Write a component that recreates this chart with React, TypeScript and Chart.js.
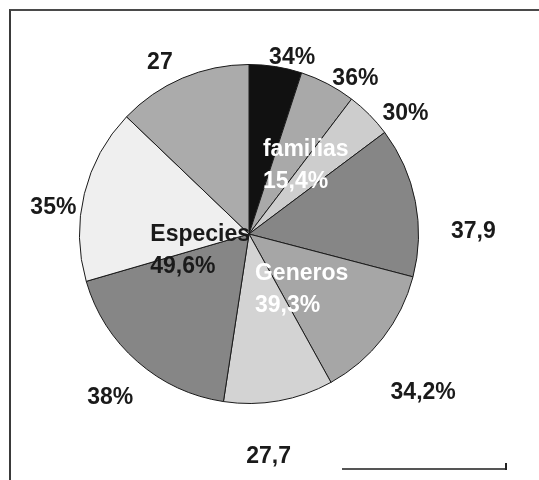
import React, { useEffect, useRef } from "react";
import { Chart, registerables } from "chart.js";

Chart.register(...registerables);

// Group totals (inner labels) and the share of each sub-slice inside its group
const groupNames = ["familias", "Generos", "Especies"];
const groupShares = [15.4, 39.3, 49.6];
const groupShareLabels = ["15,4%", "39,3%", "49,6%"];

const sliceLabels = ["34%", "36%", "30%", "37,9", "34,2%", "27,7", "38%", "35%", "27"];
const sliceShares = [34, 36, 30, 37.9, 34.2, 27.7, 38, 35, 27];
const sliceGroup = [0, 0, 0, 1, 1, 1, 2, 2, 2];

const sliceColors = [
  "#111111",
  "#a9a9a9",
  "#cdcdcd",
  "#868686",
  "#a6a6a6",
  "#d3d3d3",
  "#868686",
  "#efefef",
  "#ababab",
];

// Outer label placement: angle shift from slice middle (deg) and distance from centre (px)
const outerLabelPlacement: [number, number][] = [
  [4.7, 182],
  [6.7, 189],
  [7.2, 198],
  [10.6, 225],
  [4.4, 236],
  [5.1, 224],
  [-0.9, 215],
  [-6, 198],
  [-4.3, 194],
];

// Inner group label blocks: left edge / vertical middle offset from the pie centre
const innerLabelOffset: [number, number][] = [
  [14, -69],
  [6, 56],
  [-99, 17],
];
const innerLabelColor = ["#ffffff", "#ffffff", "#1a1a1a"];

const FONT = "bold 23px 'Liberation Sans', Arial, sans-serif";

const sliceValues = sliceShares.map((s, i) => (groupShares[sliceGroup[i]] * s) / 100);

const labelPlugin = {
  id: "pieLabels",
  afterDatasetsDraw(chart: any) {
    const ctx = chart.ctx as CanvasRenderingContext2D;
    const arcs = chart.getDatasetMeta(0).data as any[];
    if (!arcs.length) return;
    const cx = arcs[0].x;
    const cy = arcs[0].y;
    const scale = arcs[0].outerRadius / 170;
    ctx.save();
    ctx.font = FONT;
    ctx.textAlign = "center";
    ctx.textBaseline = "middle";
    ctx.fillStyle = "#1a1a1a";
    arcs.forEach((arc, i) => {
      const mid = (arc.startAngle + arc.endAngle) / 2;
      const [dA, dist] = outerLabelPlacement[i];
      const a = mid + (dA * Math.PI) / 180;
      const x = cx + Math.cos(a) * dist * scale;
      const y = cy + Math.sin(a) * dist * scale;
      ctx.fillText(sliceLabels[i], x, y);
    });
    ctx.textAlign = "left";
    groupNames.forEach((name, g) => {
      const [ox, oy] = innerLabelOffset[g];
      const x = cx + ox * scale;
      const y = cy + oy * scale;
      ctx.fillStyle = innerLabelColor[g];
      ctx.fillText(name, x, y - 16);
      ctx.fillText(groupShareLabels[g], x, y + 16);
    });
    ctx.restore();
  },
};

export default function App() {
  const canvasRef = useRef<HTMLCanvasElement | null>(null);

  useEffect(() => {
    if (!canvasRef.current) return;
    const chart = new Chart(canvasRef.current, {
      type: "pie",
      data: {
        labels: sliceLabels,
        datasets: [
          {
            data: sliceValues,
            backgroundColor: sliceColors,
            borderColor: "#1a1a1a",
            borderWidth: 1,
          },
        ],
      },
      options: {
        responsive: false,
        animation: false,
        devicePixelRatio: 1,
        layout: { padding: { left: 79, right: 120, top: 64, bottom: 76 } },
        plugins: {
          legend: { display: false },
          tooltip: { enabled: false },
        },
      },
      plugins: [labelPlugin],
    });
    return () => chart.destroy();
  }, []);

  return (
    <div
      style={{
        position: "fixed",
        left: 0,
        top: 0,
        width: 539,
        height: 480,
        background: "#ffffff",
        overflow: "hidden",
      }}
    >
      <canvas ref={canvasRef} width={539} height={480} style={{ position: "absolute", left: 0, top: 0 }} />
      <div
        style={{
          position: "absolute",
          left: 9,
          top: 9,
          right: 0,
          bottom: 0,
          borderTop: "2px solid #4a4a4a",
          borderLeft: "2px solid #3a3a3a",
          pointerEvents: "none",
        }}
      />
      <div style={{ position: "absolute", left: 342, top: 468, width: 165, height: 2, background: "#555555" }} />
      <div style={{ position: "absolute", left: 505, top: 463, width: 2, height: 7, background: "#222222" }} />
    </div>
  );
}
